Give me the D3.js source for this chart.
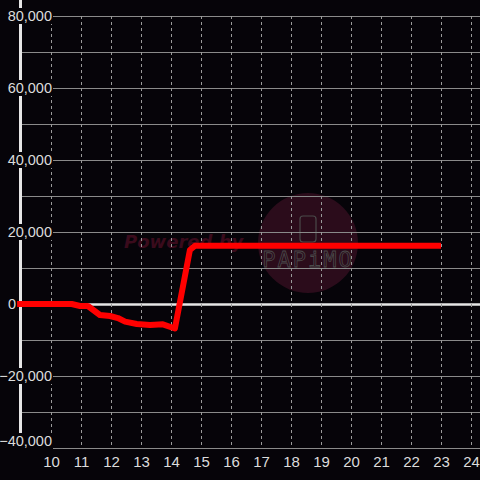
<!DOCTYPE html>
<html>
<head>
<meta charset="utf-8">
<script src="https://cdn.jsdelivr.net/npm/d3@7"></script>
<style>
  html, body { margin: 0; padding: 0; background: #060409; }
  svg { display: block; }
</style>
</head>
<body>
<svg id="chart"></svg>
<script>
// series
const hours = [8.87, 10.69, 10.97, 11.23, 11.63, 11.97, 12.23, 12.47, 12.86, 13.3, 13.73, 14.13, 14.63, 14.8, 23.0];
const balance = [0, 0, -560, -560, -3060, -3330, -3900, -4900, -5560, -5830, -5640, -6800, 15000, 16200, 16200];

const xTicks = [10, 11, 12, 13, 14, 15, 16, 17, 18, 19, 20, 21, 22, 23, 24];
const yGrid = [-40000, -30000, -20000, -10000, 0, 10000, 20000, 30000, 40000, 50000, 60000, 70000, 80000];
const yLabels = [-40000, -20000, 0, 20000, 40000, 60000, 80000];

const width = 480, height = 480;

const svg = d3.select("#chart")
    .attr("width", width)
    .attr("height", height);

svg.append("rect")
    .attr("width", width)
    .attr("height", height)
    .attr("fill", "#060409");

const x = d3.scaleLinear().domain([10, 24]).range([51, 471]);
const y = d3.scaleLinear().domain([-40000, 80000]).range([448, 16]);

const fmt = d3.format(",");

// watermark
const wm = svg.append("g");
wm.append("circle")
    .attr("cx", 308).attr("cy", 243).attr("r", 50)
    .attr("fill", "#2b0c1b");
wm.append("text")
    .attr("x", 124).attr("y", 248)
    .attr("fill", "#3a0b1c")
    .style("font", "italic bold 18px 'DejaVu Sans', sans-serif")
    .text("Powered by");
wm.append("rect")
    .attr("x", 300).attr("y", 216).attr("width", 16).attr("height", 26).attr("rx", 3)
    .attr("fill", "none").attr("stroke", "#4a4a4a").attr("stroke-width", 1.2);
wm.append("text")
    .attr("x", 308).attr("y", 267)
    .attr("text-anchor", "middle")
    .attr("fill", "none").attr("stroke", "#4a4a4a").attr("stroke-width", 0.8)
    .style("font", "22px 'DejaVu Sans Mono', monospace")
    .style("letter-spacing", "2px")
    .text("PAPiMO");

// horizontal grid
svg.append("g")
    .selectAll("line")
    .data(yGrid)
    .join("line")
    .attr("x1", 21).attr("x2", width)
    .attr("y1", d => Math.round(y(d)) + 0.5)
    .attr("y2", d => Math.round(y(d)) + 0.5)
    .attr("stroke", d => d === 0 ? "#e6e6e6" : "#8a8a8a")
    .attr("stroke-width", d => d === 0 ? 2.5 : 1);

// vertical dashed grid
svg.append("g")
    .selectAll("line")
    .data(xTicks)
    .join("line")
    .attr("x1", d => Math.round(x(d)) + 0.5)
    .attr("x2", d => Math.round(x(d)) + 0.5)
    .attr("y1", 16).attr("y2", 448)
    .attr("stroke", "#9a9a9a")
    .attr("stroke-dasharray", "3,3");

// y axis line
svg.append("line")
    .attr("x1", 20.5).attr("x2", 20.5)
    .attr("y1", 0).attr("y2", 448)
    .attr("stroke", "#e6e6e6")
    .attr("stroke-width", 3);

// y labels with a dark box behind them ("0" sits at the far left)
const yl = svg.append("g")
    .selectAll("g")
    .data(yLabels)
    .join("g")
    .attr("transform", d => `translate(0,${d === -40000 ? 441 : y(d)})`);

yl.append("rect")
    .attr("x", d => d === 0 ? 6 : 0)
    .attr("y", -8)
    .attr("width", d => d === 0 ? 12 : 53)
    .attr("height", 16)
    .attr("fill", "#060409");

yl.append("text")
    .attr("x", d => d === 0 ? 8 : 52)
    .attr("dy", "0.36em")
    .attr("text-anchor", d => d === 0 ? "start" : "end")
    .attr("fill", "#dcdcdc")
    .style("font", "14.5px 'Liberation Sans', Arial, sans-serif")
    .text(d => fmt(d));

// the line
const line = d3.line()
    .x((d, i) => x(hours[i]))
    .y(d => y(d));

svg.append("path")
    .datum(balance)
    .attr("d", line)
    .attr("fill", "none")
    .attr("stroke", "#ff0000")
    .attr("stroke-width", 6)
    .attr("stroke-linejoin", "round");

// x labels
const xAxis = d3.axisBottom(x)
    .tickValues(xTicks)
    .tickSize(0)
    .tickPadding(0);

const gx = svg.append("g")
    .attr("transform", "translate(0,456)")
    .call(xAxis);
gx.select(".domain").remove();
gx.selectAll("text")
    .attr("fill", "#dcdcdc")
    .attr("dy", "0.71em")
    .style("font", "15px 'Liberation Sans', Arial, sans-serif");
</script>
</body>
</html>
